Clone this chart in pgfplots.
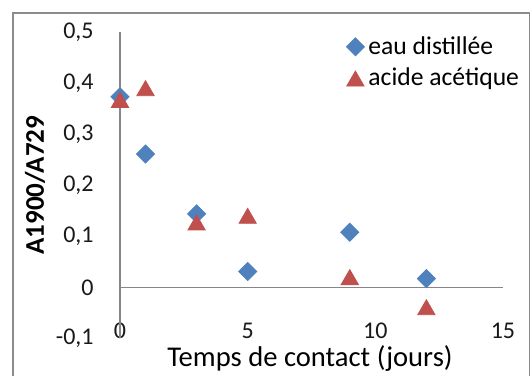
\documentclass[border=0pt]{standalone}
\usepackage{pgfplots}
\pgfplotsset{compat=1.18}
\usepackage{fontspec}
\setmainfont{Carlito}
\definecolor{exblue}{HTML}{4F81BD}
\definecolor{exred}{HTML}{C0504D}
\definecolor{axgray}{HTML}{868686}
\definecolor{bordergray}{HTML}{8C8C8C}
\begin{document}
\begin{tikzpicture}
\useasboundingbox (0,0) rectangle (266pt,188pt);
\draw[bordergray, line width=0.9pt] (6.6pt,-5pt) -- (6.6pt,181.4pt) -- (264.8pt,181.4pt) -- (264.8pt,-5pt);
\begin{axis}[
  at={(60pt,18.8pt)}, anchor=south west,
  width=191.5pt, height=153.2pt, scale only axis,
  xmin=0, xmax=15, ymin=-0.1, ymax=0.5,
  clip=false,
  axis line style={draw=none},
  tick style={draw=none},
  xtick={0,5,10,15},
  xticklabels={0,5,10,15},
  ytick={-0.1,0,0.1,0.2,0.3,0.4,0.5},
  yticklabels={{-0,1},{0},{0,1},{0,2},{0,3},{0,4},{0,5}},
  ticklabel style={font=\fontsize{12}{14}\selectfont, text=black!90},
  yticklabel style={anchor=east, inner sep=0pt, xshift=-13pt},
  xticklabel style={anchor=center, inner sep=0pt, yshift=3.7pt},
  xlabel={Temps de contact (jours)},
  xlabel style={font=\fontsize{14.3}{16}\selectfont, at={(axis description cs:0.496,-0.064)}, anchor=center},
  ylabel={A1900/A729},
  ylabel style={font=\fontsize{13.5}{15}\selectfont\bfseries, at={(axis description cs:-0.222,0.5)}, anchor=center, rotate=0},
  legend style={draw=none, fill=none, at={(axis description cs:0.59,1.0)}, anchor=north west,
    font=\fontsize{12.8}{14}\selectfont, row sep=1.5pt, inner sep=0pt},
  legend cell align=left,
  legend image code/.code={\draw[mark repeat=2, mark phase=2, #1] plot coordinates {(-4.5pt,0pt) (0pt,0pt) (4.5pt,0pt)};},
]
\draw[axgray, line width=0.6pt] (axis cs:0,-0.1) -- (axis cs:0,0.5);
\draw[axgray, line width=0.6pt] (axis cs:0,0) -- (axis cs:15,0);
\addplot[only marks, mark=square*, mark size=3.2pt, color=exblue, mark options={rotate=45, draw=exblue, fill=exblue}]
  coordinates {(0,0.373) (1,0.261) (3,0.144) (5,0.031) (9,0.108) (12,0.017)};
\addlegendentry{eau distillée}
\addplot[only marks, mark=triangle*, mark size=5pt, color=exred, mark options={yshift=-1.25pt, draw=exred, fill=exred}]
  coordinates {(0,0.367) (1,0.390) (3,0.127) (5,0.140) (9,0.020) (12,-0.039)};
\addlegendentry{acide acétique}
\end{axis}
\end{tikzpicture}
\end{document}
